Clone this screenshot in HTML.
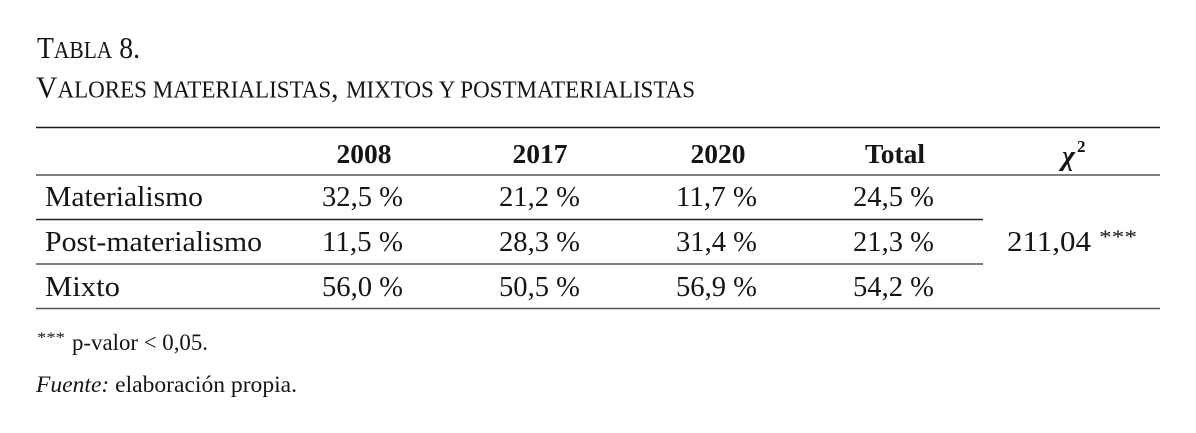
<!DOCTYPE html>
<html>
<head>
<meta charset="utf-8">
<style>
html,body{margin:0;padding:0;background:#fff;}
svg{display:block;}
text{font-family:"Liberation Serif",serif;fill:#151515;}
</style>
</head>
<body>
<svg width="1196" height="433" viewBox="0 0 1196 433" xmlns="http://www.w3.org/2000/svg">
<rect width="1196" height="433" fill="#fff"/>
<!-- Title -->
<text x="37" y="58" font-size="31" textLength="103" lengthAdjust="spacingAndGlyphs">T<tspan font-size="24">ABLA</tspan> 8.</text>
<text x="36" y="97.5" font-size="31" textLength="659" lengthAdjust="spacingAndGlyphs">V<tspan font-size="24">ALORES MATERIALISTAS</tspan>, <tspan font-size="24">MIXTOS Y POSTMATERIALISTAS</tspan></text>

<!-- Rules -->
<line x1="36" y1="127.5" x2="1160" y2="127.5" stroke="#1a1a1a" stroke-width="1.4"/>
<line x1="36" y1="175" x2="1160" y2="175" stroke="#555" stroke-width="1.4"/>
<line x1="36" y1="219.5" x2="983" y2="219.5" stroke="#222" stroke-width="1.4"/>
<line x1="36" y1="264" x2="983" y2="264" stroke="#555" stroke-width="1.4"/>
<line x1="36" y1="308.5" x2="1160" y2="308.5" stroke="#555" stroke-width="1.4"/>

<!-- Header -->
<g font-weight="bold" font-size="27.5" text-anchor="middle">
<text x="364" y="163">2008</text>
<text x="540" y="163">2017</text>
<text x="718" y="163">2020</text>
<text x="895" y="163">Total</text>
</g>
<text x="1062" y="165" font-size="28" font-style="italic" font-weight="bold">χ</text>
<text x="1077" y="152" font-size="17" font-weight="bold">2</text>

<!-- Row labels -->
<g font-size="28.5">
<text x="45" y="206" textLength="158" lengthAdjust="spacingAndGlyphs">Materialismo</text>
<text x="45" y="251" textLength="217" lengthAdjust="spacingAndGlyphs">Post-materialismo</text>
<text x="45" y="296" textLength="75" lengthAdjust="spacingAndGlyphs">Mixto</text>
</g>

<!-- Data -->
<g font-size="28.5">
<text x="322" y="206" textLength="81" lengthAdjust="spacingAndGlyphs">32,5 %</text>
<text x="499" y="206" textLength="81" lengthAdjust="spacingAndGlyphs">21,2 %</text>
<text x="676" y="206" textLength="81" lengthAdjust="spacingAndGlyphs">11,7 %</text>
<text x="853" y="206" textLength="81" lengthAdjust="spacingAndGlyphs">24,5 %</text>

<text x="322" y="251" textLength="81" lengthAdjust="spacingAndGlyphs">11,5 %</text>
<text x="499" y="251" textLength="81" lengthAdjust="spacingAndGlyphs">28,3 %</text>
<text x="676" y="251" textLength="81" lengthAdjust="spacingAndGlyphs">31,4 %</text>
<text x="853" y="251" textLength="81" lengthAdjust="spacingAndGlyphs">21,3 %</text>

<text x="322" y="296" textLength="81" lengthAdjust="spacingAndGlyphs">56,0 %</text>
<text x="499" y="296" textLength="81" lengthAdjust="spacingAndGlyphs">50,5 %</text>
<text x="676" y="296" textLength="81" lengthAdjust="spacingAndGlyphs">56,9 %</text>
<text x="853" y="296" textLength="81" lengthAdjust="spacingAndGlyphs">54,2 %</text>

<text x="1007" y="251" textLength="84" lengthAdjust="spacingAndGlyphs">211,04</text>
<text x="1099" y="243" font-size="19" textLength="38" lengthAdjust="spacingAndGlyphs">***</text>
</g>

<!-- Footnotes -->
<text x="37" y="342" font-size="15" textLength="28" lengthAdjust="spacingAndGlyphs">***</text>
<text x="72" y="350" font-size="23" textLength="136" lengthAdjust="spacingAndGlyphs">p-valor &lt; 0,05.</text>
<text x="36" y="392" font-size="23.5" textLength="261" lengthAdjust="spacingAndGlyphs"><tspan font-style="italic">Fuente:</tspan> elaboración propia.</text>
</svg>
</body>
</html>
